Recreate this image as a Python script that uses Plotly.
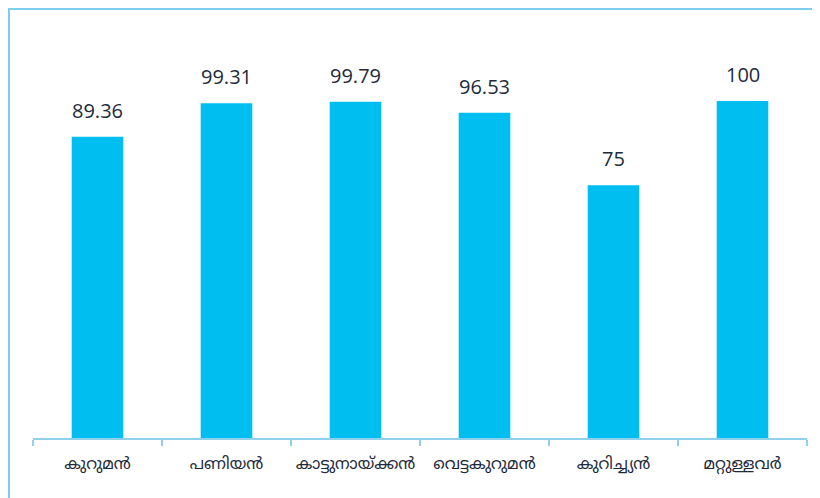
import plotly.graph_objects as go

categories = ["കുറുമൻ", "പണിയൻ", "കാട്ടുനായ്ക്കൻ", "വെട്ടകുറുമൻ", "കുറിച്ച്യൻ", "മറ്റുള്ളവർ"]
values = [89.36, 99.31, 99.79, 96.53, 75, 100]
value_labels = ["89.36", "99.31", "99.79", "96.53", "75", "100"]

# page has an 8px body margin, so the figure is a bit smaller than the window
W, H = 812, 490
ml, mr, mt, mb = 25, 13, 93, 60
pw, ph = W - ml - mr, H - mt - mb

fig = go.Figure()
fig.add_trace(go.Bar(x=categories, y=values, marker=dict(color="#00BEF0", line=dict(width=0)),
                     width=0.4, hoverinfo="x+y"))

for c, v, t in zip(categories, values, value_labels):
    fig.add_annotation(x=c, y=v, text=t, showarrow=False, yanchor="bottom", yshift=11,
                       font=dict(size=20, color="#1E2B3A", family="Open Sans, Noto Sans"))

# light-blue frame around the chart (runs off the right and bottom edges)
fig.add_shape(type="rect", xref="paper", yref="paper",
              x0=(1 - ml) / pw, x1=(W + 10 - ml) / pw,
              y0=-(H + 10 - mt - ph) / ph, y1=(H - 1 - mb) / ph,
              line=dict(color="#7FCDEE", width=2), fillcolor="rgba(0,0,0,0)")

fig.update_layout(
    width=W, height=H,
    margin=dict(l=ml, r=mr, t=mt, b=mb, autoexpand=False),
    paper_bgcolor="white", plot_bgcolor="white",
    showlegend=False,
    bargap=0.6,
    font=dict(family="Noto Sans Malayalam, Noto Sans, DejaVu Sans", color="#1E2B3A"),
)
fig.update_xaxes(showline=True, linecolor="#8FD0EC", linewidth=2,
                 ticks="outside", tickson="boundaries", ticklen=6, tickcolor="#8FD0EC", tickwidth=2,
                 ticklabelstandoff=10, tickangle=0, automargin=False,
                 tickfont=dict(size=16, color="#1E2B3A"), showgrid=False)
fig.update_yaxes(range=[0, 100], visible=False, showgrid=False)

fig.write_html("out.html")
